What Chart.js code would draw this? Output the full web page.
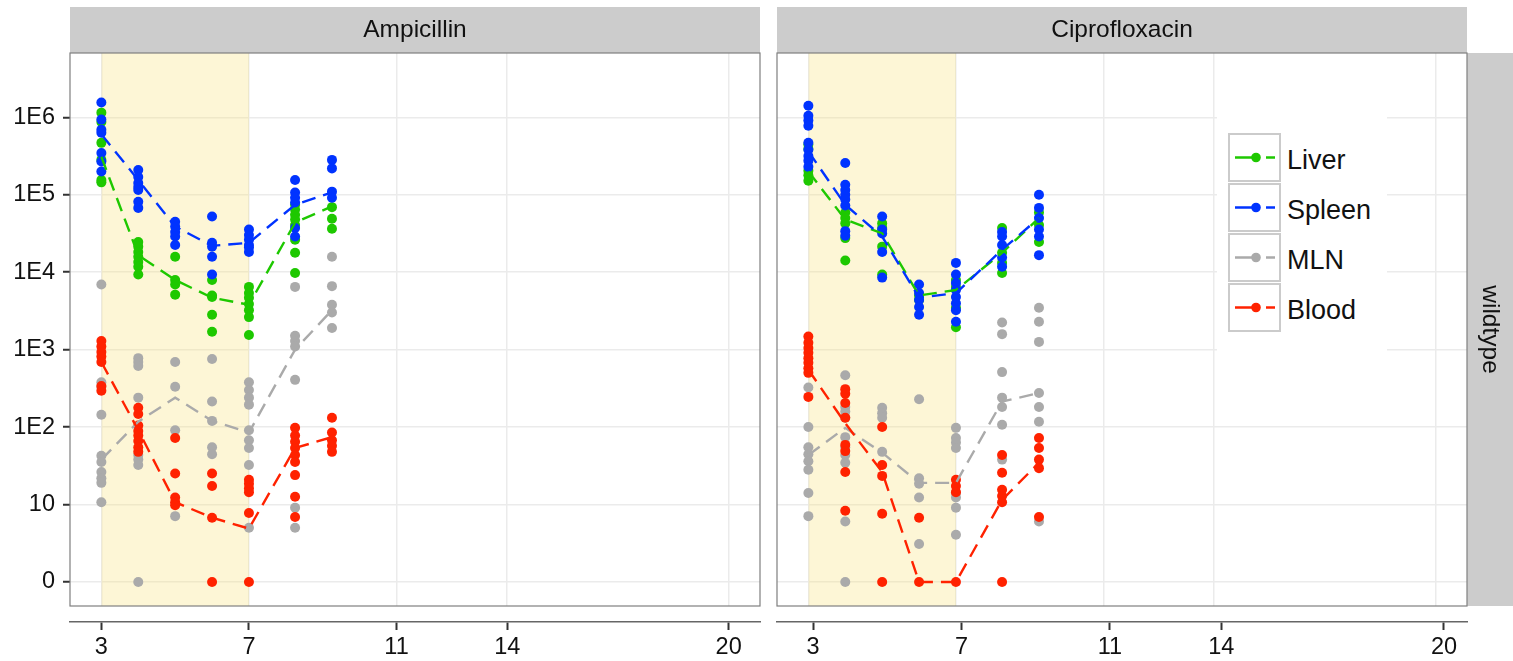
<!DOCTYPE html>
<html><head><meta charset="utf-8">
<script src="https://cdn.jsdelivr.net/npm/chart.js@4"></script>
<style>
html,body{margin:0;padding:0;background:#fff;}
#wrap{position:relative;width:1513px;height:661px;overflow:hidden;font-family:"Liberation Sans",Arial,Helvetica,sans-serif;}
#c1{position:absolute;left:0;top:0;}
#c2{position:absolute;left:768px;top:0;}
#legend{position:absolute;left:1217px;top:105px;width:170px;height:257px;background:#fff;}
.key{position:absolute;left:11px;width:53px;height:49px;box-sizing:border-box;border:2px solid #cbcbcb;background:#fff;}
.key svg{position:absolute;left:-2px;top:-2px;}
.lab{position:absolute;left:70px;font-size:27px;line-height:30px;color:#111;white-space:nowrap;}
</style></head>
<body><div id="wrap">
<canvas id="c1" width="768" height="661"></canvas>
<canvas id="c2" width="745" height="661"></canvas>
<div id="legend"></div>
</div>
<script>
// ---- data (values in log10 units; 0 shown as "0") ----
const days = [3, 4, 5, 6, 7, 8.25, 9.25];
const xTicks = [3, 7, 11, 14, 20];
const yTicks = [0, 1, 2, 3, 4, 5, 6];
const yTickLabels = ['0', '10', '1E2', '1E3', '1E4', '1E5', '1E6'];
const treatedDays = [3, 7];
const organs = ['Liver', 'Spleen', 'MLN', 'Blood'];
const panels = ['Ampicillin', 'Ciprofloxacin'];
const rowStrip = 'wildtype';

const ampLiver = [
  [6.06, 5.94, 5.67, 5.45, 5.19, 5.16],
  [4.39, 4.33, 4.26, 4.20, 4.13, 4.07, 3.97],
  [4.20, 3.90, 3.84, 3.71],
  [3.90, 3.70, 3.68, 3.45, 3.23],
  [3.81, 3.73, 3.67, 3.59, 3.51, 3.42, 3.19],
  [4.87, 4.81, 4.74, 4.68, 4.61, 4.42, 4.25, 3.99],
  [4.84, 4.69, 4.56]
];
const ampSpleen = [
  [6.19, 5.97, 5.84, 5.80, 5.54, 5.43, 5.30],
  [5.32, 5.23, 5.15, 5.10, 5.06, 4.91, 4.83],
  [4.65, 4.59, 4.52, 4.46, 4.35],
  [4.72, 4.38, 4.33, 4.20, 3.97],
  [4.55, 4.48, 4.42, 4.35, 4.32, 4.26],
  [5.19, 5.03, 4.96, 4.90, 4.57, 4.46],
  [5.45, 5.34, 5.04, 4.96]
];
const ampMLN = [
  [3.84, 2.58, 2.52, 2.16, 1.63, 1.55, 1.42, 1.34, 1.28, 1.03],
  [2.89, 2.84, 2.79, 2.38, 1.64, 1.58, 1.51, 0],
  [2.84, 2.52, 1.96, 0.85],
  [2.88, 2.33, 2.08, 1.74, 1.65],
  [2.58, 2.48, 2.38, 2.29, 1.96, 1.83, 1.73, 1.51, 0.70],
  [3.81, 3.18, 3.11, 3.04, 2.61, 0.96, 0.70],
  [4.20, 3.82, 3.58, 3.48, 3.28]
];
const ampBlood = [
  [3.11, 3.04, 2.97, 2.91, 2.84, 2.53, 2.47],
  [2.25, 2.17, 2.02, 1.95, 1.89, 1.82, 1.74, 1.68],
  [1.86, 1.40, 1.09, 1.03, 0.99],
  [1.40, 1.24, 0.83, 0],
  [1.32, 1.27, 1.21, 1.16, 0.89, 0],
  [1.99, 1.89, 1.81, 1.73, 1.64, 1.55, 1.38, 1.10, 0.84],
  [2.12, 1.93, 1.83, 1.76, 1.68]
];
const ampLiverMean  = [5.49, 4.22, 3.90, 3.67, 3.58, 4.64, 4.85];
const ampSpleenMean = [5.78, 5.19, 4.59, 4.34, 4.38, 4.87, 5.03];
const ampMLNMean    = [1.58, 2.07, 2.38, 2.08, 1.93, 3.00, 3.51];
const ampBloodMean  = [2.84, 1.96, 1.03, 0.83, 0.69, 1.73, 1.87];

const cipLiver = [
  [5.65, 5.59, 5.31, 5.25, 5.18],
  [4.77, 4.70, 4.63, 4.44, 4.15],
  [4.63, 4.57, 4.33, 3.97],
  [3.70, 3.64],
  [3.90, 3.81, 3.54, 3.29],
  [4.57, 4.25, 4.12, 3.99],
  [4.77, 4.61, 4.39]
];
const cipSpleen = [
  [6.15, 6.02, 5.96, 5.89, 5.67, 5.58, 5.50, 5.44, 5.36],
  [5.41, 5.13, 5.06, 5.00, 4.94, 4.86, 4.53, 4.47],
  [4.72, 4.55, 4.50, 4.26, 3.93],
  [3.84, 3.73, 3.64, 3.55, 3.45],
  [4.12, 3.97, 3.86, 3.77, 3.68, 3.60, 3.51, 3.36],
  [4.52, 4.46, 4.35, 4.19, 4.07],
  [5.00, 4.83, 4.70, 4.55, 4.46, 4.22]
];
const cipMLN = [
  [2.51, 2.00, 1.74, 1.65, 1.56, 1.45, 1.15, 0.85],
  [2.67, 2.26, 2.20, 2.12, 1.87, 1.74, 1.64, 1.54, 0.78, 0],
  [2.25, 2.18, 2.12, 1.68],
  [2.36, 1.34, 1.27, 1.09, 0.49],
  [1.99, 1.86, 1.80, 1.73, 1.15, 1.09, 0.96, 0.61],
  [3.35, 3.20, 2.71, 2.38, 2.26, 2.03, 1.58],
  [3.54, 3.36, 3.10, 2.44, 2.26, 2.07, 0.78]
];
const cipBlood = [
  [3.17, 3.09, 3.02, 2.96, 2.89, 2.83, 2.76, 2.70, 2.39],
  [2.49, 2.43, 2.31, 2.12, 1.77, 1.69, 1.42, 0.92],
  [2.00, 1.51, 1.37, 0.88, 0],
  [0.83, 0],
  [1.32, 1.24, 1.16, 0],
  [1.64, 1.41, 1.19, 1.11, 1.03, 0],
  [1.86, 1.73, 1.58, 1.47, 0.84]
];
const cipLiverMean  = [5.30, 4.68, 4.50, 3.70, 3.77, 4.25, 4.70];
const cipSpleenMean = [5.56, 4.87, 4.46, 3.67, 3.73, 4.29, 4.70];
const cipMLNMean    = [1.64, 1.99, 1.67, 1.28, 1.28, 2.33, 2.44];
const cipBloodMean  = [2.74, 2.05, 1.42, 0, 0, 1.06, 1.54];

// ---- styles ----
const organColors = ['#1ec800', '#0033ff', '#aaaaaa', '#ff2200'];
const FONT = '"Liberation Sans", Arial, Helvetica, sans-serif';
const TXT = '#111111';
const Y_MIN = -0.31, Y_MAX = 6.83, X_MIN = 2.15, X_MAX = 20.85;

function toPts(arr) { const out = []; days.forEach((d, i) => arr[i].forEach(v => out.push({x: d, y: v}))); return out; }
function toLine(arr) { return days.map((d, i) => ({x: d, y: arr[i]})); }

function makeDatasets(pointSets, meanSets) {
  const ds = [{
    type: 'line', label: 'shade',
    data: [{x: treatedDays[0], y: Y_MAX + 1}, {x: treatedDays[1], y: Y_MAX + 1}],
    fill: 'start', backgroundColor: 'rgba(250,225,120,0.3)', borderColor: 'rgba(0,0,0,0)',
    borderWidth: 1, pointRadius: 0, order: 100
  }];
  pointSets.forEach((p, k) => ds.push({
    type: 'scatter', label: organs[k], data: toPts(p), pointRadius: 5,
    pointBackgroundColor: organColors[k], pointBorderWidth: 0, order: 50 - k
  }));
  meanSets.forEach((m, k) => ds.push({
    type: 'line', label: organs[k] + ' mean', data: toLine(m), borderColor: organColors[k],
    borderWidth: 2.4, borderDash: [14, 8], pointRadius: 0, fill: false, order: 10 - k
  }));
  return ds;
}

const setXTicks = s => { s.ticks = xTicks.map(v => ({value: v})); };
const setYTicks = s => { s.ticks = yTicks.map(v => ({value: v})); };

function xScales(axMin, axMax) {
  return {
    x: {
      type: 'linear', min: X_MIN, max: X_MAX, position: 'bottom', weight: 0,
      afterBuildTicks: setXTicks, afterFit: s => { s.height = 16; },
      ticks: {display: false},
      grid: {color: '#ebebeb', lineWidth: 1.5, drawTicks: false},
      border: {display: false}
    },
    xa: {
      type: 'linear', min: axMin, max: axMax, position: 'bottom', weight: 1,
      afterBuildTicks: setXTicks, afterFit: s => { s.height = 39; },
      ticks: {font: {family: FONT, size: 23.5}, color: TXT, padding: 3, maxRotation: 0, autoSkip: false},
      grid: {drawOnChartArea: false, drawTicks: true, tickLength: 8, tickColor: '#333', tickWidth: 2},
      border: {display: true, color: '#666', width: 1.5}
    }
  };
}

const facetDecor = {
  id: 'facetDecor',
  beforeDraw(chart) {
    const ca = chart.chartArea, ctx = chart.ctx, tb = chart.titleBlock;
    ctx.save();
    ctx.fillStyle = '#cccccc';
    if (tb) ctx.fillRect(ca.left, tb.top, ca.right - ca.left, tb.bottom - tb.top);
    const s = chart.scales.yr;
    if (s) ctx.fillRect(s.left, ca.top, s.right - s.left, ca.bottom - ca.top);
    ctx.restore();
  },
  afterDraw(chart) {
    const ca = chart.chartArea, ctx = chart.ctx;
    ctx.save();
    ctx.strokeStyle = '#7f7f7f'; ctx.lineWidth = 1.2;
    ctx.strokeRect(ca.left, ca.top, ca.right - ca.left, ca.bottom - ca.top);
    ctx.restore();
  }
};

function titleOpts(text) {
  return {display: true, text: text, fullSize: false, color: TXT,
          font: {family: FONT, size: 24.5, weight: 'normal', lineHeight: 1.2},
          padding: {top: 8.3, bottom: 8.3}};
}

// ---- left panel ----
const leftScales = xScales(X_MIN, X_MAX);
leftScales.y = {
  type: 'linear', min: Y_MIN, max: Y_MAX, position: 'left',
  afterBuildTicks: setYTicks, afterFit: s => { s.width = 70; },
  ticks: {font: {family: FONT, size: 23.5}, color: TXT, padding: 8,
          callback: v => yTickLabels[yTicks.indexOf(v)]},
  grid: {color: '#ebebeb', lineWidth: 1.5, drawTicks: true, tickLength: 7, tickColor: '#333', tickWidth: 2},
  border: {display: false}
};
new Chart(document.getElementById('c1'), {
  type: 'scatter',
  data: {datasets: makeDatasets([ampLiver, ampSpleen, ampMLN, ampBlood],
                                [ampLiverMean, ampSpleenMean, ampMLNMean, ampBloodMean])},
  options: {
    responsive: false, animation: false, events: [],
    layout: {padding: {top: 7, right: 8, left: 0, bottom: 0}},
    plugins: {legend: {display: false}, tooltip: {enabled: false}, title: titleOpts(panels[0])},
    scales: leftScales
  },
  plugins: [facetDecor]
});

// ---- right panel ----
const rightScales = xScales(2.03, 20.62);
rightScales.y = {
  type: 'linear', min: Y_MIN, max: Y_MAX, position: 'left',
  afterBuildTicks: setYTicks, afterFit: s => { s.width = 9; },
  ticks: {display: false},
  grid: {color: '#ebebeb', lineWidth: 1.5, drawTicks: false},
  border: {display: false}
};
rightScales.yr = {
  type: 'linear', min: Y_MIN, max: Y_MAX, position: 'right',
  afterFit: s => { s.width = 46; },
  ticks: {display: false}, grid: {display: false}, border: {display: false},
  title: {display: true, text: rowStrip, color: TXT,
          font: {family: FONT, size: 24.5, lineHeight: 1.2}, padding: {top: 9, bottom: 0}}
};
new Chart(document.getElementById('c2'), {
  type: 'scatter',
  data: {datasets: makeDatasets([cipLiver, cipSpleen, cipMLN, cipBlood],
                                [cipLiverMean, cipSpleenMean, cipMLNMean, cipBloodMean])},
  options: {
    responsive: false, animation: false, events: [],
    layout: {padding: {top: 7, right: 0, left: 0, bottom: 0}},
    plugins: {legend: {display: false}, tooltip: {enabled: false}, title: titleOpts(panels[1])},
    scales: rightScales
  },
  plugins: [facetDecor]
});

// ---- legend (inside right panel) ----
const leg = document.getElementById('legend');
organs.forEach((name, i) => {
  const key = document.createElement('div');
  key.className = 'key';
  key.style.top = (28 + 50 * i) + 'px';
  key.innerHTML = '<svg width="53" height="49"><line x1="7" y1="24.5" x2="47" y2="24.5" stroke="' + organColors[i] +
    '" stroke-width="2.4" stroke-dasharray="25 6 9 100"/><circle cx="28" cy="24.5" r="4.8" fill="' + organColors[i] + '"/></svg>';
  leg.appendChild(key);
  const lab = document.createElement('div');
  lab.className = 'lab';
  lab.style.top = (28 + 50 * i + 12) + 'px';
  lab.textContent = name;
  leg.appendChild(lab);
});
</script>
</body></html>
